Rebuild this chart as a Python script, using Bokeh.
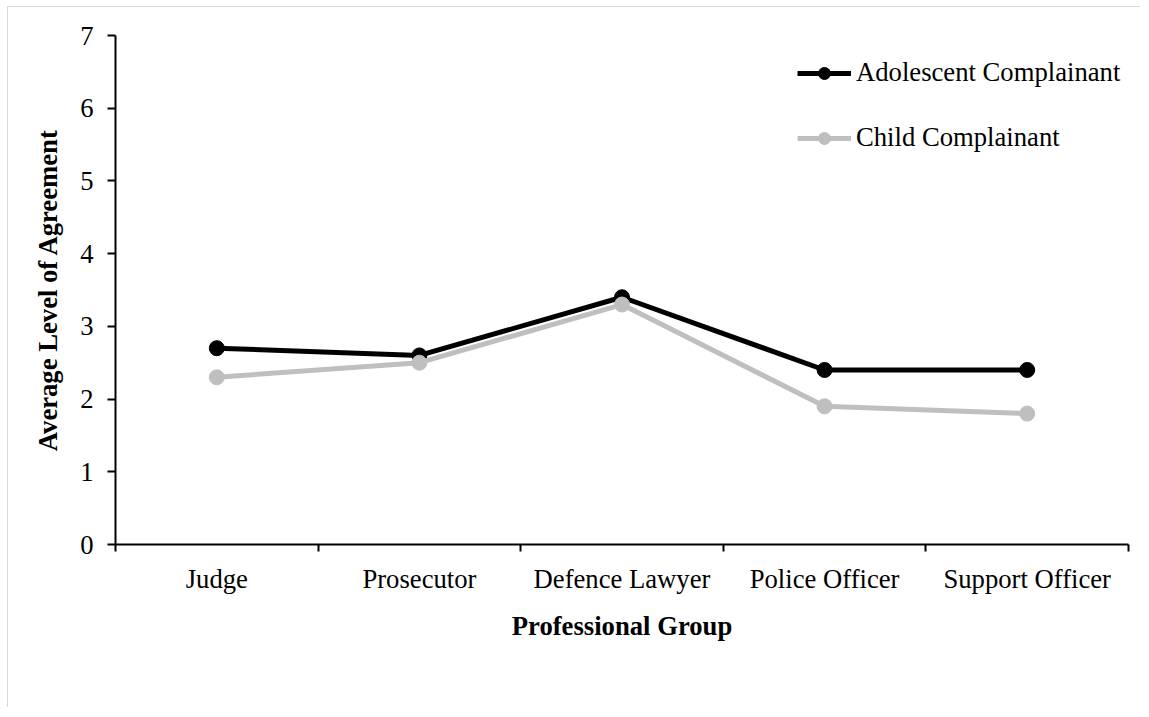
from bokeh.plotting import figure
from bokeh.models import Range1d, FixedTicker, Legend, LegendItem
from bokeh.embed import file_html
from bokeh.resources import INLINE

categories = ["Judge", "Prosecutor", "Defence Lawyer", "Police Officer", "Support Officer"]
adolescent = [2.7, 2.6, 3.4, 2.4, 2.4]
child = [2.3, 2.5, 3.3, 1.9, 1.8]
y_ticks = [0, 1, 2, 3, 4, 5, 6, 7]

FONT = "Liberation Serif"
FS = "20pt"

xs = [i + 0.5 for i in range(len(categories))]

p = figure(width=1133, height=701, output_backend="svg", toolbar_location=None,
           x_range=Range1d(0, len(categories)), y_range=Range1d(0, 7))
p.min_border_left = 107
p.min_border_top = 28
p.min_border_right = 13
p.min_border_bottom = 164
p.outline_line_color = None
p.xgrid.visible = False
p.ygrid.visible = False
p.background_fill_color = "white"
p.border_fill_color = "white"
p.styles = {"border-left": "1px solid #d9d9d9", "border-top": "1px solid #d9d9d9",
            "margin-left": "7px", "margin-top": "6px"}

# x axis: labels at centers, ticks at boundaries (minor)
p.xaxis.ticker = FixedTicker(ticks=xs, minor_ticks=list(range(len(categories) + 1)))
p.xaxis.major_label_overrides = {x: c for x, c in zip(xs, categories)}
p.xaxis.major_tick_out = 0
p.xaxis.major_tick_in = 0
p.xaxis.minor_tick_out = 7
p.xaxis.minor_tick_in = 0
p.xaxis.minor_tick_line_width = 2
p.xaxis.minor_tick_line_color = "black"
p.xaxis.axis_line_width = 2
p.xaxis.axis_line_color = "black"
p.xaxis.major_label_standoff = 12
p.xaxis.axis_label = "Professional Group"
p.xaxis.axis_label_standoff = 14

p.yaxis.ticker = FixedTicker(ticks=y_ticks)
p.yaxis.minor_tick_line_color = None
p.yaxis.major_tick_out = 8
p.yaxis.major_tick_in = 0
p.yaxis.major_tick_line_width = 2
p.yaxis.major_tick_line_color = "black"
p.yaxis.axis_line_width = 2
p.yaxis.axis_line_color = "black"
p.yaxis.major_label_standoff = 14
p.yaxis.axis_label = "Average Level of Agreement"
p.yaxis.axis_label_standoff = 14

for ax in (p.xaxis, p.yaxis):
    ax.major_label_text_font = FONT
    ax.major_label_text_font_size = FS
    ax.major_label_text_color = "black"
    ax.axis_label_text_font = FONT
    ax.axis_label_text_font_size = FS
    ax.axis_label_text_font_style = "bold"
    ax.axis_label_text_color = "black"

series = [("Adolescent Complainant", adolescent, "black"),
          ("Child Complainant", child, "#bfbfbf")]
items = []
for name, vals, col in series:
    l = p.line(xs, vals, line_color=col, line_width=5)
    s = p.scatter(xs, vals, size=15, fill_color=col, line_color=col)
    items.append(LegendItem(label=name, renderers=[l, s]))

legend = Legend(items=items, location=(682, 391))
legend.glyph_width = 54
legend.glyph_height = 30
legend.label_height = 30
legend.spacing = 34
legend.padding = 0
legend.margin = 0
legend.label_standoff = 5
legend.border_line_color = None
legend.background_fill_alpha = 0
legend.label_text_font = FONT
legend.label_text_font_size = FS
legend.label_text_color = "black"
p.add_layout(legend, "center")

open("out.html", "w").write(file_html(p, INLINE))
